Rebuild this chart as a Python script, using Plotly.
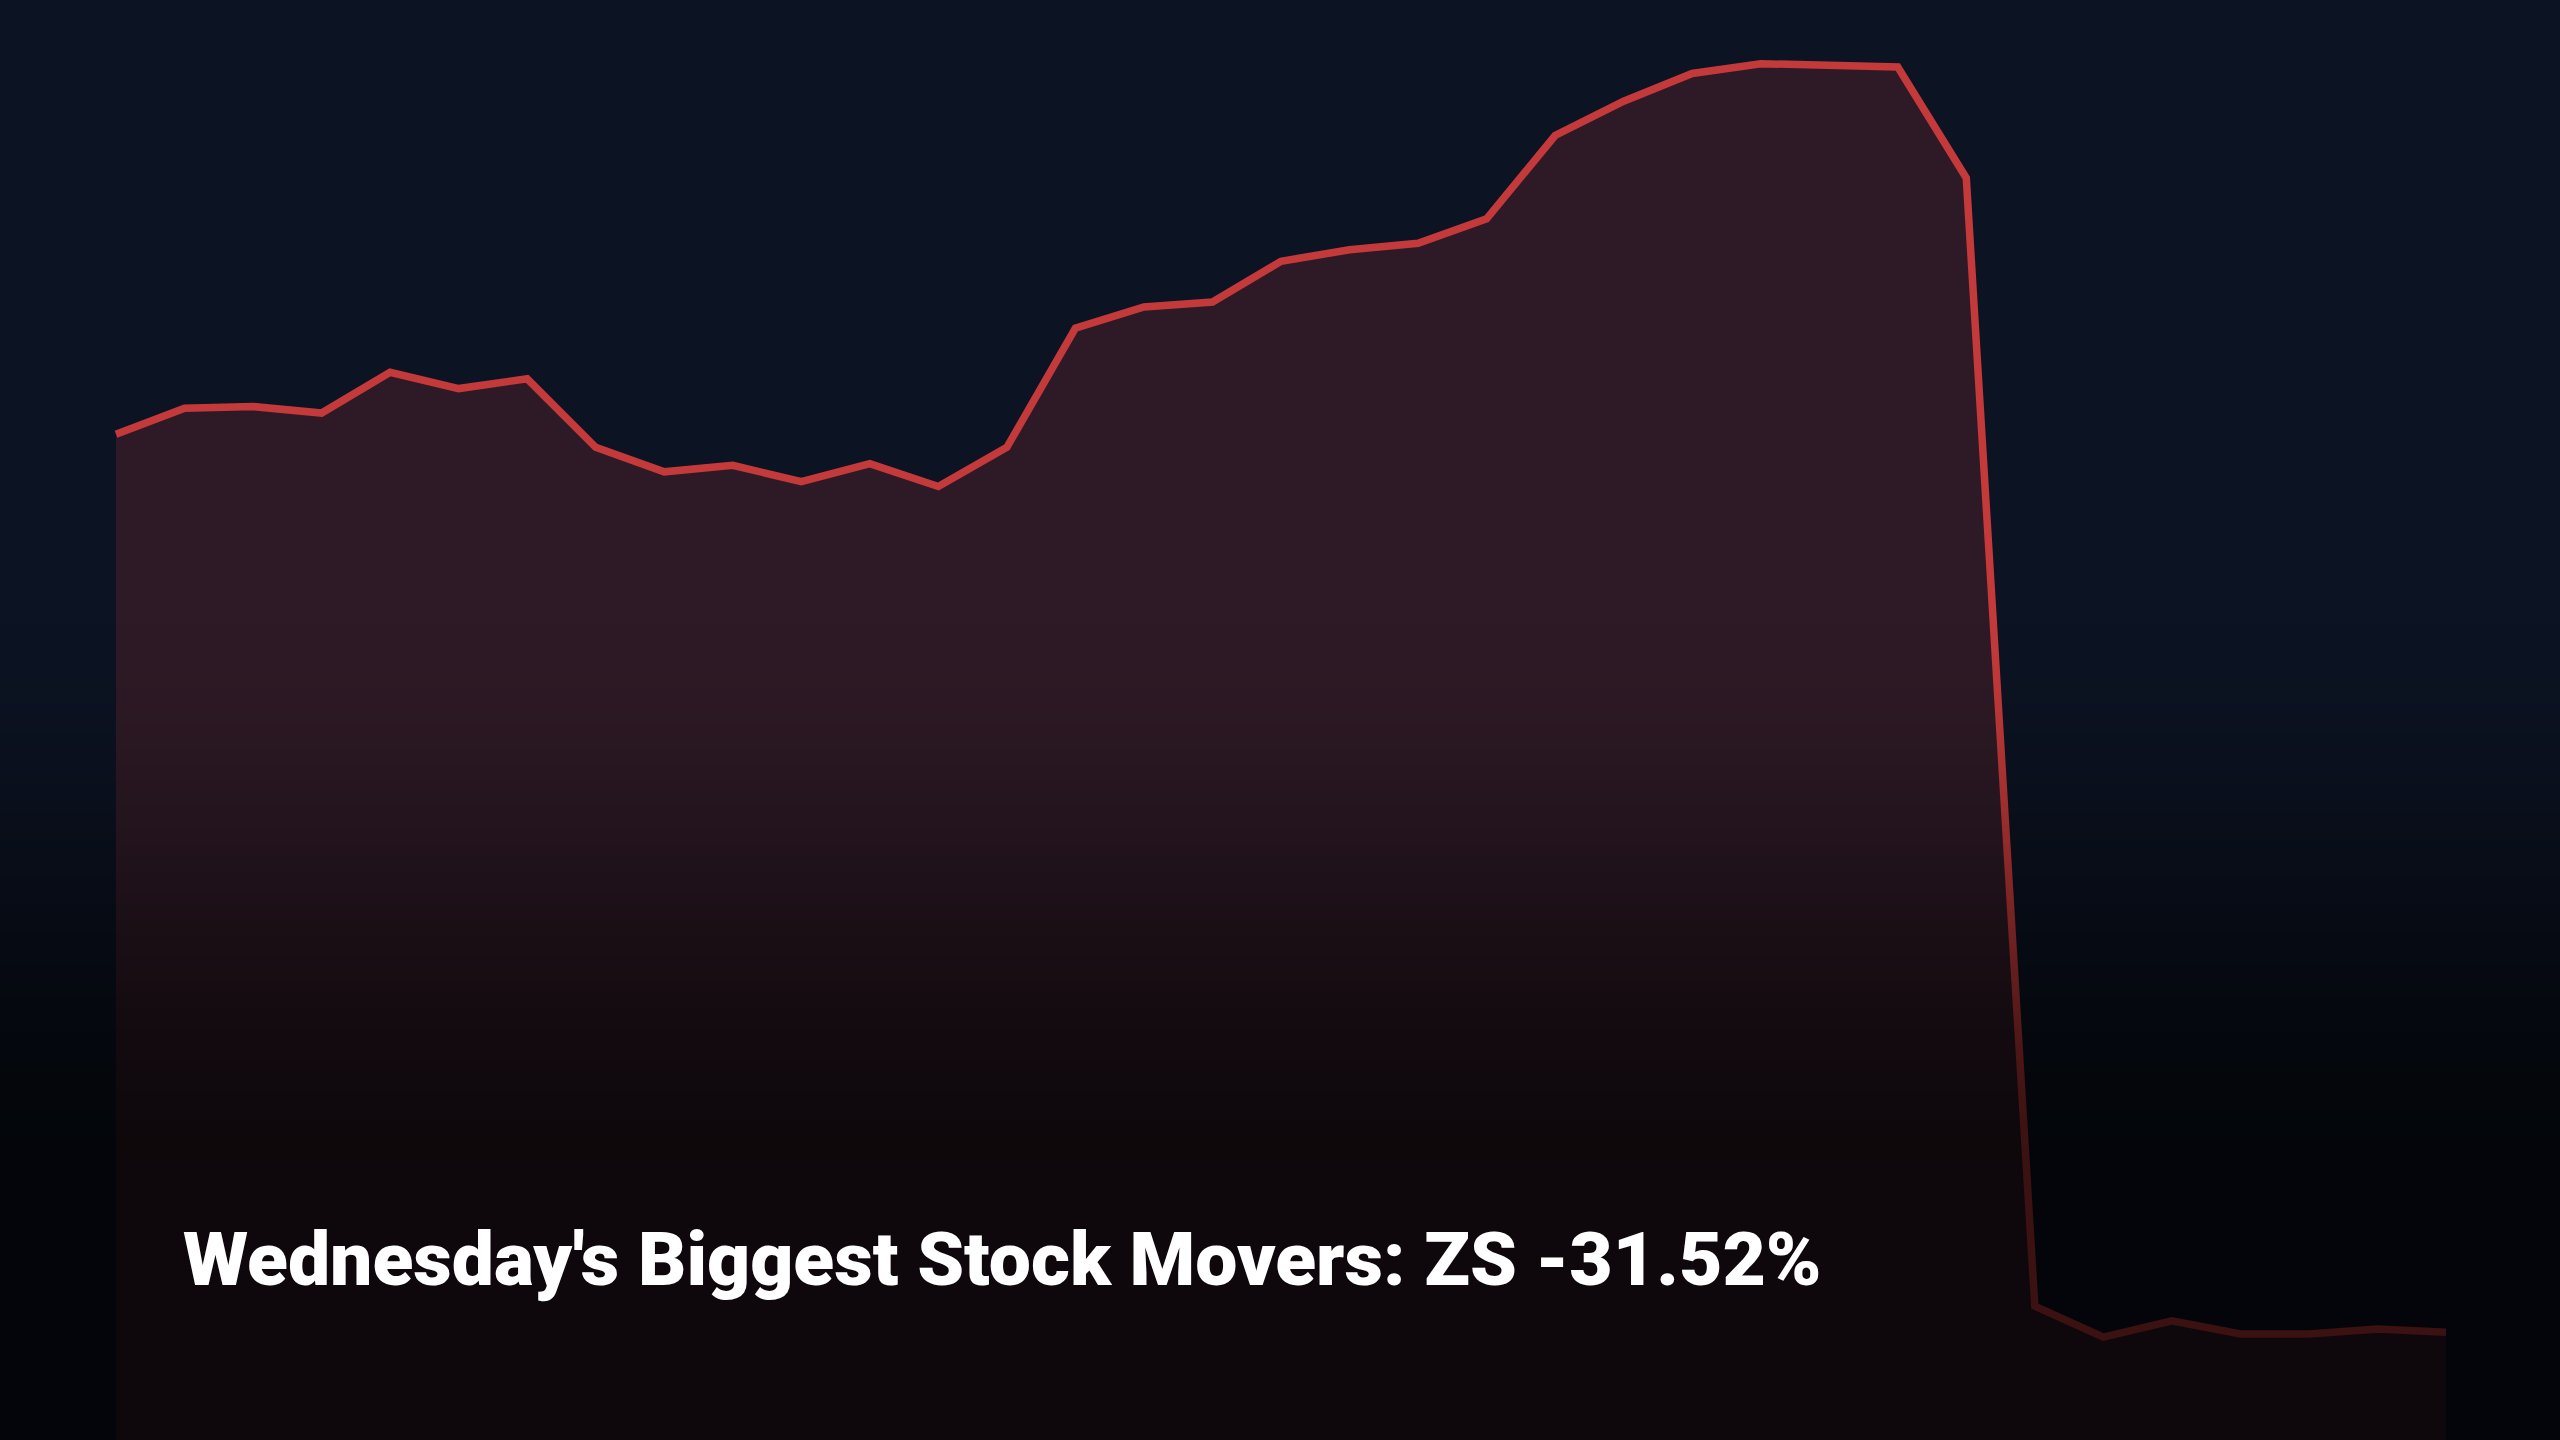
import base64
import struct
import zlib

import plotly.graph_objects as go

# ---- data ----
steps = list(range(35))
prices = [237.3, 238.9, 239.0, 238.6, 241.1, 240.1, 240.7, 236.5, 235.0, 235.4,
          234.4, 235.5, 234.1, 236.5, 243.8, 245.1, 245.4, 247.9, 248.6, 249.0,
          250.5, 255.6, 257.7, 259.4, 260.0, 259.9, 259.8, 253.0, 183.9, 182.0,
          183.0, 182.2, 182.2, 182.5, 182.3]
title_text = "Wednesday's Biggest Stock Movers: ZS -31.52%"

W, H = 2560, 1440
BG = "#0c1322"
LINE = "#c43a3a"
FILL = "#2e1a26"


# ---- vertical darkening overlay (black, alpha grows toward the bottom) ----
def overlay_png(rows=720):
    def alpha(t):
        t0, t1, amax = 0.42, 0.82, 0.70
        if t <= t0:
            return 0.0
        if t >= t1:
            return amax
        s = (t - t0) / (t1 - t0)
        return amax * (3 * s * s - 2 * s * s * s)

    raw = b""
    for r in range(rows):
        a = int(round(alpha((r + 0.5) / rows) * 255))
        raw += b"\x00" + bytes([0, 0, 0, a])

    def chunk(tag, data):
        c = tag + data
        return struct.pack(">I", len(data)) + c + struct.pack(">I", zlib.crc32(c) & 0xFFFFFFFF)

    png = b"\x89PNG\r\n\x1a\n"
    png += chunk(b"IHDR", struct.pack(">IIBBBBB", 1, rows, 8, 6, 0, 0, 0))
    png += chunk(b"IDAT", zlib.compress(raw, 9))
    png += chunk(b"IEND", b"")
    return "data:image/png;base64," + base64.b64encode(png).decode()


fig = go.Figure()
fig.add_trace(go.Scatter(
    x=steps, y=prices, mode="lines",
    line=dict(color=LINE, width=7.5),
    fill="tozeroy", fillcolor=FILL,
    hoverinfo="skip", showlegend=False,
))

# x: first point at px 116, last at px 2446; y: 260 at px 64, 182 at px 1337
px_per_step = (2446 - 116) / 34
fig.update_xaxes(visible=False, range=[-116 / px_per_step, 34 + (W - 2446) / px_per_step])
fig.update_yaxes(visible=False, range=[175.7, 263.9])

fig.add_layout_image(dict(
    source=overlay_png(), xref="paper", yref="paper", x=0, y=1,
    sizex=1, sizey=1, sizing="stretch", xanchor="left", yanchor="top",
    layer="above", opacity=1,
))

fig.add_annotation(
    text=title_text, xref="paper", yref="paper",
    x=181 / W, y=1 - 1259 / H, xanchor="left", yanchor="middle",
    showarrow=False,
    font=dict(family="Roboto", size=75, color="#ffffff", weight=900),
)

fig.update_layout(
    width=W, height=H,
    margin=dict(l=0, r=0, t=0, b=0),
    paper_bgcolor=BG, plot_bgcolor=BG,
)

fig.write_html(
    "out.html",
    config={"displayModeBar": False},
    post_script="document.body.style.margin='0';document.body.style.overflow='hidden';"
                "document.body.style.background='#03050a';",
)
